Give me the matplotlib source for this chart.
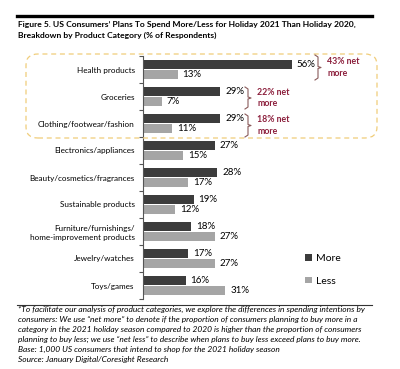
import numpy as np
import matplotlib.pyplot as plt
from matplotlib.patches import FancyBboxPatch
from matplotlib.lines import Line2D

categories = ["Health products", "Groceries", "Clothing/footwear/fashion",
              "Electronics/appliances", "Beauty/cosmetics/fragrances",
              "Sustainable products",
              "Furniture/furnishings/\nhome-improvement products",
              "Jewelry/watches", "Toys/games"]
more = [56, 29, 29, 27, 28, 19, 18, 17, 16]
less = [13, 7, 11, 15, 17, 12, 27, 27, 31]
net_labels = ["43% net\nmore", "22% net\nmore", "18% net\nmore"]

title = ("Figure 5. US Consumers\u2019 Plans To Spend More/Less for Holiday 2021 Than Holiday 2020,\n"
         "Breakdown by Product Category (% of Respondents)")
footnote = ("*To facilitate our analysis of product categories, we explore the differences in spending intentions by\n"
            "consumers: We use \u201cnet more\u201d to denote if the proportion of consumers planning to buy more in a\n"
            "category in the 2021 holiday season compared to 2020 is higher than the proportion of consumers\n"
            "planning to buy less; we use \u201cnet less\u201d to describe when plans to buy less exceed plans to buy more.\n"
            "Base: 1,000 US consumers that intend to shop for the 2021 holiday season\n"
            "Source: January Digital/Coresight Research")

DARK = "#3c3c3c"
LIGHT = "#a5a5a5"
RED = "#8c1f3c"
W, H = 400, 369

plt.rcParams['font.family'] = ['Lato', 'DejaVu Sans']

def fx(px):
    return px / W

def fy(py):
    return 1 - py / H

fig = plt.figure(figsize=(4, 3.69), dpi=100)

# top rule and title
fig.add_artist(Line2D([fx(17), fx(372)], [fy(16), fy(16)], color="black", lw=2.4))
fig.text(fx(18), fy(21), title, fontsize=6.1, fontweight="bold", va="top",
         linespacing=1.55)

# highlight box
box = FancyBboxPatch((fx(26), fy(138)), fx(377) - fx(26), fy(54) - fy(138),
                     boxstyle="round,pad=0,rounding_size=0.03",
                     transform=fig.transFigure, fill=False, ec="#f0cd7a",
                     lw=0.9, ls=(0, (4, 3)))
fig.add_artist(box)

ax = fig.add_axes([fx(143), fy(299), 90 * 2.66 / W, fy(56) - fy(299)])
y = np.arange(len(categories))
ax.barh(y - 0.2, more, height=0.34, color=DARK, label="More")
ax.barh(y + 0.2, less, height=0.34, color=LIGHT, label="Less")
ax.set_xlim(0, 90)
ax.set_ylim(len(categories) - 0.5, -0.5)

for i in range(len(categories)):
    ax.annotate(f"{more[i]}%", (more[i], y[i] - 0.2), xytext=(3.5, 0),
                textcoords="offset points", va="center", fontsize=7)
    ax.annotate(f"{less[i]}%", (less[i], y[i] + 0.2), xytext=(3.5, 0),
                textcoords="offset points", va="center", fontsize=7)

ax.set_yticks(y)
ax.set_yticklabels(categories, fontsize=5.9, linespacing=1.3)
ax.tick_params(axis="y", length=0, pad=6)
ax.set_yticks(np.arange(len(categories) + 1) - 0.5, minor=True)
ax.tick_params(axis="y", which="minor", length=3, width=0.8, color="#555555")
ax.set_xticks([])
for s in ["top", "right", "bottom"]:
    ax.spines[s].set_visible(False)
ax.spines["left"].set_color("#555555")
ax.spines["left"].set_linewidth(0.8)

# net-more brackets
brackets = [(318, 55, 80), (248, 87, 109), (248, 114, 137)]
for (bx, y0, y1), lab in zip(brackets, net_labels):
    ym = (y0 + y1) / 2
    xs = [bx - 3, bx, bx, bx + 3, bx, bx, bx - 3]
    ys = [y0, y0 + 2, ym - 1, ym, ym + 1, y1 - 2, y1]
    fig.add_artist(Line2D([fx(v) for v in xs], [fy(v) for v in ys],
                          color="#8a5a5a", lw=0.8))
    fig.text(fx(bx + 9), fy(ym), lab, fontsize=6.3, fontweight="bold",
             color=RED, va="center", linespacing=1.4)

# legend
ax.legend(loc="lower left", bbox_to_anchor=(fx(296), fy(295)),
          bbox_transform=fig.transFigure, frameon=False, fontsize=7.5,
          handlelength=0.6, handleheight=0.6, handletextpad=0.4,
          labelspacing=1.3)

# bottom rule and footnote
fig.add_artist(Line2D([fx(17), fx(372)], [fy(305), fy(305)], color="#333333", lw=0.8))
fig.text(fx(18), fy(306), footnote, fontsize=6.0, style="italic", va="top",
         linespacing=1.5)

fig.savefig("out.png", dpi=100)
